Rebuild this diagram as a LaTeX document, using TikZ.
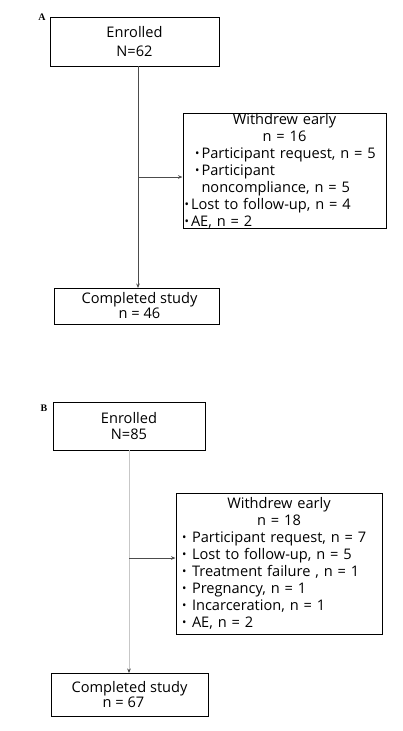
\documentclass[tikz,border=0pt]{standalone}
\usepackage{fontspec}
\setmainfont{Open Sans}
\newfontfamily\labfont{Liberation Serif}
\usetikzlibrary{arrows.meta}
\tikzset{
  box/.style={draw=black, line width=1pt, inner sep=0pt, align=center,
    font=\fontsize{14.6}{16}\selectfont},
  listbox/.style={draw=black, line width=1pt, inner sep=0pt, align=left,
    font=\fontsize{14.6}{16.9}\selectfont},
  conA/.style={draw=black!70, line width=0.9pt},
  conB/.style={draw=black!22, line width=0.9pt},
  tip/.style={-{Stealth[length=4.5pt,width=3.6pt]}},
  tipdark/.style={-{Stealth[length=4.5pt,width=3.6pt,color=black!75]}},
  panel/.style={font=\labfont\bfseries\fontsize{10}{12}\selectfont, inner sep=0pt}
}
\newcommand{\dotglyph}{\raisebox{0.1ex}{\scalebox{0.8}{•}}}
\newcommand{\bulA}{\makebox[6.5pt][l]{\dotglyph}}
\newcommand{\bulB}{\makebox[10pt][l]{\dotglyph}}
\begin{document}
\begin{tikzpicture}[x=1pt,y=-1pt]
\useasboundingbox (0,0) rectangle (402,731);
% Panel A
\node[panel] (labA) at (42,17) {A};
\node[box, font=\fontsize{14.6}{19.5}\selectfont, minimum width=169pt, minimum height=49pt] (enA) at (134.5,41.5) {Enrolled\\N=62};
\node[listbox, text width=203pt, minimum height=112pt] (wA) at (284.5,171) {%
\makebox[203pt]{Withdrew early}\\
\makebox[203pt]{n = 16}\\
\hspace*{12pt}\bulA Participant request, n = 5\\
\hspace*{12pt}\bulA Participant\\
\hspace*{18.5pt}noncompliance, n = 5\\
\hspace*{1.5pt}\bulA Lost to follow-up, n = 4\\
\hspace*{1.5pt}\bulA AE, n = 2};
\node[box, font=\fontsize{14.6}{15}\selectfont, minimum width=165pt, minimum height=36pt] (coA) at (136.5,306) {\hspace*{6pt}Completed study\\\hspace*{6pt}n = 46};
\coordinate (tA) at (138,66);
\coordinate (jA) at (138,177);
\coordinate (bA) at (138,288);
\draw[conA, tip] (tA) -- (bA);
\draw[conA, tip] (jA) -- (wA.west |- jA);
% Panel B
\node[panel] (labB) at (44,408) {B};
\node[box, minimum width=152pt, minimum height=48pt] (enB) at (129,426) {Enrolled\\N=85};
\node[listbox, text width=206pt, minimum height=141pt] (wB) at (279,563.5) {%
\makebox[206pt]{Withdrew early}\\
\makebox[206pt]{n = 18}\\
\hspace*{6pt}\bulB Participant request, n = 7\\
\hspace*{6pt}\bulB Lost to follow-up, n = 5\\
\hspace*{6pt}\bulB Treatment failure , n = 1\\
\hspace*{6pt}\bulB Pregnancy, n = 1\\
\hspace*{6pt}\bulB Incarceration, n = 1\\
\hspace*{6pt}\bulB AE, n = 2};
\node[box, font=\fontsize{14.6}{14.5}\selectfont, minimum width=157pt, minimum height=43pt] (coB) at (129.5,694.5) {Completed study\\\hspace*{-12pt}n = 67};
\coordinate (tB) at (129,450);
\coordinate (jB) at (129,558);
\coordinate (bB) at (129,673);
\draw[conB, tipdark] (tB) -- (bB);
\draw[conA, tip] (jB) -- (wB.west |- jB);
\end{tikzpicture}
\end{document}
